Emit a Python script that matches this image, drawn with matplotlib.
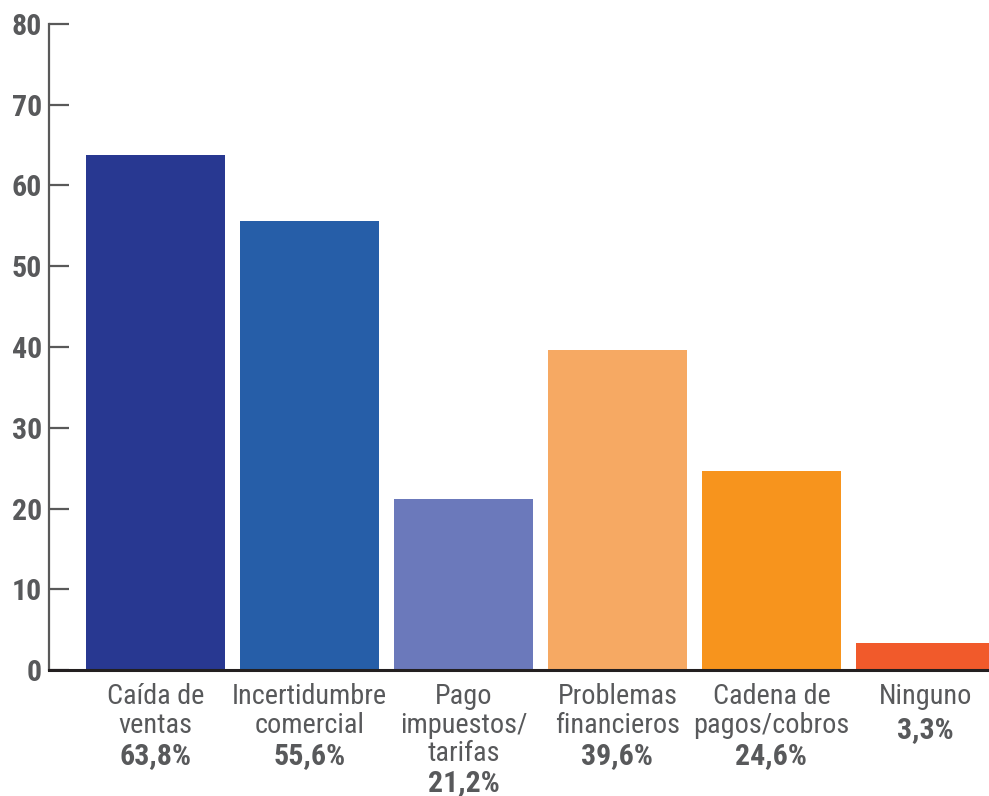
import matplotlib
matplotlib.use("Agg")
import matplotlib.pyplot as plt
from matplotlib import font_manager

categories = ["Caída de\nventas", "Incertidumbre\ncomercial", "Pago\nimpuestos/\ntarifas",
              "Problemas\nfinancieros", "Cadena de\npagos/cobros", "Ninguno"]
values = [63.8, 55.6, 21.2, 39.6, 24.6, 3.3]
pct_labels = ["63,8%", "55,6%", "21,2%", "39,6%", "24,6%", "3,3%"]
colors = ["#283891", "#265ea8", "#6b79bb", "#f6a963", "#f7941d", "#f15a2b"]
yticks = [0, 10, 20, 30, 40, 50, 60, 70, 80]

names = {f.name for f in font_manager.fontManager.ttflist}
cands = ["Roboto Condensed", "Liberation Sans Narrow", "Open Sans Condensed",
         "Noto Sans Condensed", "DejaVu Sans Condensed", "Liberation Sans"]
first = next((c for c in cands if c in names), "DejaVu Sans")
plt.rcParams['font.family'] = [first, "DejaVu Sans"]
condensed = first != "Liberation Sans"
fs = 20.3 if condensed else 18.5
fsp = 21.5 if condensed else 19

W, H = 989, 796
fig = plt.figure(figsize=(W/100, H/100), dpi=100)
ax = fig.add_axes([49/W, 1-670/H, 1-49/W, (670-24)/H])

x = list(range(len(values)))
ax.bar(x, values, width=0.9, color=colors, zorder=2)
ax.set_xlim((49-155.5)/154, (989-155.5)/154)
ax.set_ylim(0, 80)
ax.set_yticks(yticks)
ax.set_xticks([])
tc = "#58595b"
ax.tick_params(axis='y', direction='in', length=14.4, width=1.6, color="#595959",
               labelsize=fsp, labelcolor=tc, pad=5)
for lab in ax.get_yticklabels():
    lab.set_fontweight('bold')
for s in ['top', 'right']:
    ax.spines[s].set_visible(False)
ax.spines['left'].set_color("#595959")
ax.spines['left'].set_linewidth(1.6)
ax.spines['bottom'].set_color("#231f20")
ax.spines['bottom'].set_linewidth(2.2)
ax.spines['bottom'].set_zorder(3)

pt = 72/100
for i, (c, p) in enumerate(zip(categories, pct_labels)):
    n = c.count("\n") + 1
    ax.annotate(c, xy=(i, 0), xycoords='data', xytext=(0, -13*pt), textcoords='offset points',
                ha='center', va='top', fontsize=fs, color=tc, linespacing=1.08,
                annotation_clip=False)
    ax.annotate(p, xy=(i, 0), xycoords='data',
                xytext=(0, -(25 + (n-1)*26.5 + 35)*pt), textcoords='offset points',
                ha='center', va='center', fontsize=fsp, color=tc, fontweight='bold',
                annotation_clip=False)

fig.savefig("out.png", dpi=100)
